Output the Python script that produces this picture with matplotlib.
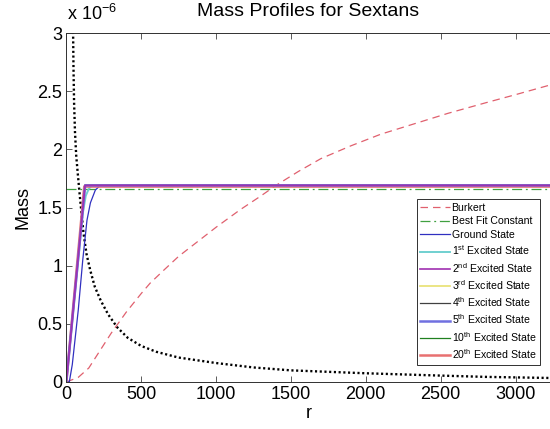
import matplotlib
matplotlib.use("Agg")
import matplotlib.pyplot as plt
from matplotlib.ticker import FuncFormatter, FixedLocator

plt.rcParams['font.family'] = ['Liberation Sans', 'DejaVu Sans']
plt.rcParams['mathtext.fontset'] = 'custom'
plt.rcParams['mathtext.rm'] = 'Liberation Sans'
plt.rcParams['mathtext.it'] = 'Liberation Sans:italic'

SCALE = 1e-6

# Burkert mass profile (units of 1e-6)
burkert_r = [0, 80, 150, 200, 250, 300, 350, 400, 450, 500, 560, 650, 750, 850, 1000,
             1160, 1300, 1400, 1550, 1700, 1900, 2100, 2300, 2550, 2800, 3000, 3250]
burkert_m = [0, 0.04, 0.12, 0.22, 0.32, 0.42, 0.51, 0.60, 0.68, 0.76, 0.85, 0.96, 1.08, 1.18, 1.33,
             1.48, 1.60, 1.69, 1.81, 1.92, 2.03, 2.13, 2.21, 2.31, 2.40, 2.47, 2.56]

# Best fit constant
best_fit_r = [0, 3500]
best_fit_m = [1.66, 1.66]

# Black dotted curve (unlabelled)
dotted_r = [45, 48, 52, 58, 66, 76, 88, 100, 115, 135, 160, 190, 230, 280, 340, 410, 500,
            600, 750, 1000, 1250, 1500, 2000, 2500, 2800, 3300]
dotted_m = [3.05, 2.7, 2.4, 2.15, 1.95, 1.8, 1.63, 1.47, 1.28, 1.10, 0.96, 0.82, 0.70, 0.58,
            0.47, 0.38, 0.31, 0.26, 0.21, 0.163, 0.125, 0.100, 0.075, 0.055, 0.044, 0.033]

# State mass profiles
ground_r = [0, 20, 40, 80, 110, 138, 161, 194, 227, 3500]
ground_m = [0, 0.0, 0.15, 0.62, 1.05, 1.39, 1.54, 1.65, 1.69, 1.69]
ex1_r = [0, 110, 130, 150, 172, 3500]
ex1_m = [0, 1.45, 1.60, 1.66, 1.69, 1.69]
ex2_r = [0, 125, 3500]
ex2_m = [0, 1.69, 1.69]
ex3_r = [0, 124, 3500]
ex3_m = [0, 1.69, 1.69]
ex4_r = [0, 123, 3500]
ex4_m = [0, 1.69, 1.69]
ex5_r = [0, 126, 3500]
ex5_m = [0, 1.69, 1.69]
ex10_r = [0, 122, 3500]
ex10_m = [0, 1.69, 1.69]
ex20_r = [0, 120, 290, 3500]
ex20_m = [0, 1.68, 1.68, 1.68]

labels = ['Burkert', 'Best Fit Constant', 'Ground State',
          '1$^{\\mathrm{st}}$ Excited State', '2$^{\\mathrm{nd}}$ Excited State',
          '3$^{\\mathrm{rd}}$ Excited State', '4$^{\\mathrm{th}}$ Excited State',
          '5$^{\\mathrm{th}}$ Excited State', '10$^{\\mathrm{th}}$ Excited State',
          '20$^{\\mathrm{th}}$ Excited State']

x_ticks = [0, 500, 1000, 1500, 2000, 2500, 3000]
y_ticks = [0, 0.5, 1, 1.5, 2, 2.5, 3]

W, H = 550, 429
fig = plt.figure(figsize=(W / 100, H / 100), dpi=100)
ax = fig.add_axes([66.3 / W, 47 / H, (551.5 - 66.3) / W, 349 / H])

def s(v):
    return [x * SCALE for x in v]

ax.plot(dotted_r, s(dotted_m), color='black', lw=1.7, linestyle=(0, (0.9, 1.1)))
hb, = ax.plot(burkert_r, s(burkert_m), color='#e0606e', lw=0.9, linestyle=(0, (6, 4)))
hf, = ax.plot(best_fit_r, s(best_fit_m), color='#40a040', lw=0.9, linestyle=(0, (8, 3, 1.5, 3)))
h0, = ax.plot(ground_r, s(ground_m), color='#3030c0', lw=0.9)
h1, = ax.plot(ex1_r, s(ex1_m), color='#70d0d0', lw=1.4)
h3, = ax.plot(ex3_r, s(ex3_m), color='#e8e070', lw=1.2)
h4, = ax.plot(ex4_r, s(ex4_m), color='#404040', lw=0.9)
h10, = ax.plot(ex10_r, s(ex10_m), color='#208020', lw=0.9)
h20, = ax.plot(ex20_r, s(ex20_m), color='#e87070', lw=1.8)
h5, = ax.plot(ex5_r, s(ex5_m), color='#7070e0', lw=1.8)
h2, = ax.plot(ex2_r, s(ex2_m), color='#a030b0', lw=1.2)

ax.set_xlim(0, 3240)
ax.set_ylim(0, 3 * SCALE)
ax.xaxis.set_major_locator(FixedLocator(x_ticks))
ax.yaxis.set_major_locator(FixedLocator([v * SCALE for v in y_ticks]))
ax.yaxis.set_major_formatter(FuncFormatter(lambda v, p: f"{v / SCALE:g}"))
ax.tick_params(direction='in', length=4, width=0.6, labelsize=13, top=True, right=False,
               color='#404040', pad=3)
for sp in ax.spines.values():
    sp.set_linewidth(0.7)
    sp.set_color('#303030')

ax.set_xlabel('r', fontsize=13, labelpad=1)
ax.set_ylabel('Mass', fontsize=13, labelpad=4)
fig.text(308.5 / W, 1 - 12 / H, 'Mass Profiles for Sextans', fontsize=14,
         ha='center', va='center')
fig.text(67 / W, 1 - 20 / H, 'x 10$^{-6}$', fontsize=13, ha='left', va='baseline')

handles = [hb, hf, h0, h1, h2, h3, h4, h5, h10, h20]
leg = fig.legend(handles, labels, loc='upper left',
                 bbox_to_anchor=(416.7 / W, 1 - 199.3 / H), borderaxespad=0,
                 fontsize=7.6, frameon=True, fancybox=False, framealpha=1,
                 edgecolor='#303030', handlelength=2.8, handletextpad=0.15,
                 labelspacing=0.33, borderpad=0.35)
leg.get_frame().set_linewidth(0.7)

fig.savefig('out.png', dpi=100)
